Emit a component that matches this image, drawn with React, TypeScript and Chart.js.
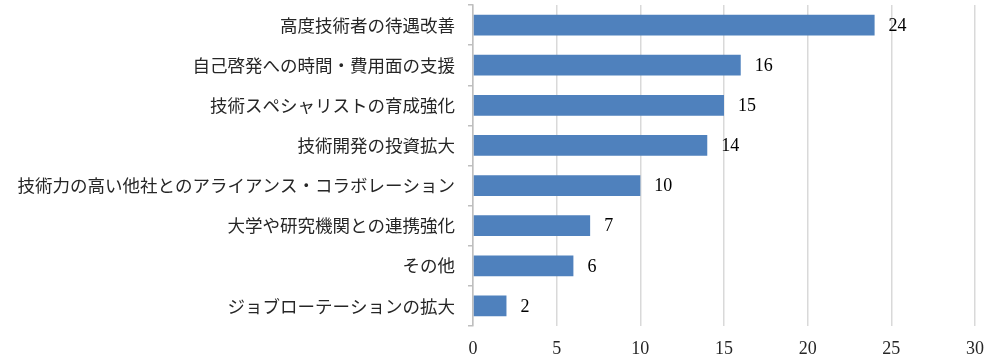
import React, { useEffect, useRef } from "react";
import { Chart, registerables } from "chart.js";

Chart.register(...registerables);

const categories = [
  "高度技術者の待遇改善",
  "自己啓発への時間・費用面の支援",
  "技術スペシャリストの育成強化",
  "技術開発の投資拡大",
  "技術力の高い他社とのアライアンス・コラボレーション",
  "大学や研究機関との連携強化",
  "その他",
  "ジョブローテーションの拡大",
];
const values = [24, 16, 15, 14, 10, 7, 6, 2];
const xMin = 0;
const xMax = 30;
const xStep = 5;

const valueLabels = {
  id: "valueLabels",
  afterDatasetsDraw(chart: any) {
    const ctx = chart.ctx;
    const meta = chart.getDatasetMeta(0);
    ctx.save();
    ctx.font = '18px "Liberation Serif", serif';
    ctx.fillStyle = "#000000";
    ctx.textAlign = "left";
    ctx.textBaseline = "middle";
    meta.data.forEach((bar: any, i: number) => {
      ctx.fillText(String(values[i]), bar.x + 14, bar.y + 1);
    });
    ctx.restore();
  },
};

export default function App() {
  const ref = useRef<HTMLCanvasElement | null>(null);
  useEffect(() => {
    if (!ref.current) return;
    const chart = new Chart(ref.current, {
      type: "bar",
      data: {
        labels: categories,
        datasets: [
          {
            data: values,
            backgroundColor: "#4F81BD",
            borderWidth: 0,
            barPercentage: 0.52,
            categoryPercentage: 1,
          },
        ],
      },
      options: {
        indexAxis: "y",
        animation: false,
        responsive: false,
        maintainAspectRatio: false,
        layout: { padding: { top: 5, right: 25, left: 0, bottom: 0 } },
        plugins: {
          legend: { display: false },
          tooltip: { enabled: false },
        },
        scales: {
          x: {
            min: xMin,
            max: xMax,
            ticks: {
              stepSize: xStep,
              padding: 12,
              color: "#262626",
              font: { family: '"Liberation Serif", serif', size: 18 },
            },
            grid: { color: "#d9d9d9", lineWidth: 1.5, drawTicks: false },
            border: { display: false },
            afterFit(scale: any) {
              scale.height = 32;
              scale.paddingLeft = 0;
              scale.paddingRight = 0;
            },
          },
          y: {
            ticks: {
              padding: 13,
              color: "#262626",
              autoSkip: false,
              font: { family: '"Noto Sans CJK JP", sans-serif', size: 17.5 },
            },
            grid: {
              drawOnChartArea: false,
              drawTicks: true,
              tickLength: 5,
              color: "#bfbfbf",
              lineWidth: 1.5,
            },
            border: { display: true, color: "#bfbfbf", width: 1.5 },
            afterFit(scale: any) {
              scale.width = 473;
              scale.paddingTop = 0;
              scale.paddingBottom = 0;
            },
          },
        },
      },
      plugins: [valueLabels],
    });
    return () => chart.destroy();
  }, []);
  return (
    <div style={{ position: "fixed", left: 0, top: 0, width: 1000, height: 358, background: "#ffffff" }}>
      <canvas ref={ref} width={1000} height={358} />
    </div>
  );
}
